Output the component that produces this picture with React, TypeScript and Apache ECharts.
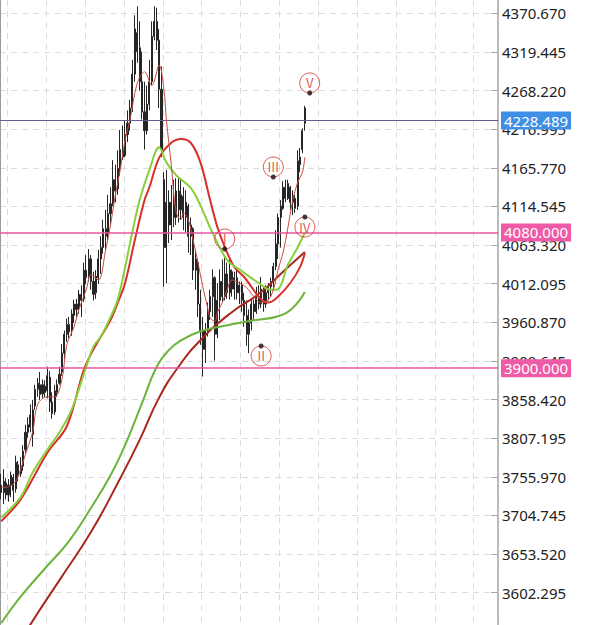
import React, { useEffect, useRef } from "react";
import * as echarts from "echarts";

// ---- data -------------------------------------------------------------
const SLOT_COUNT = 205; // trading-day slots on the x axis (data + empty right side)
const categories: string[] = Array.from({ length: SLOT_COUNT }, (_, i) => "D" + (i + 1));

const yTicks = [
  3602.295, 3653.52, 3704.745, 3755.97, 3807.195, 3858.42, 3909.645, 3960.87,
  4012.095, 4063.32, 4114.545, 4165.77, 4216.995, 4268.22, 4319.445, 4370.67,
];
const Y_MIN = 3559.46;
const Y_MAX = 4388.31;

// [open, close, low, high]
const candles = [
  [3745, 3735, 3726, 3760], [3735, 3750, 3720, 3766], [3748, 3732, 3726, 3754], [3732, 3745, 3723, 3753],
  [3745, 3758, 3729, 3763], [3755, 3738, 3723, 3760], [3740, 3775, 3735, 3784], [3772, 3758, 3750, 3777],
  [3760, 3770, 3756, 3782], [3770, 3790, 3764, 3798], [3792, 3815, 3788, 3825], [3815, 3825, 3808, 3835],
  [3822, 3838, 3815, 3852], [3845, 3812, 3796, 3858], [3850, 3872, 3845, 3878], [3872, 3880, 3862, 3887],
  [3878, 3865, 3858, 3895], [3866, 3878, 3860, 3885], [3876, 3868, 3862, 3884], [3870, 3890, 3860, 3902],
  [3888, 3855, 3842, 3896], [3855, 3840, 3833, 3868], [3842, 3870, 3838, 3878], [3868, 3878, 3862, 3885],
  [3880, 3892, 3878, 3902], [3895, 3920, 3890, 3932], [3920, 3945, 3912, 3950], [3945, 3958, 3935, 3966],
  [3958, 3948, 3940, 3968], [3950, 3972, 3943, 3978], [3970, 3985, 3960, 3991], [3985, 3978, 3968, 3992],
  [3980, 3998, 3972, 4004], [3998, 3990, 3968, 4010], [3992, 4030, 3988, 4040], [4030, 4020, 4011, 4050],
  [4022, 4045, 4015, 4058], [4045, 4015, 4004, 4050], [4015, 3998, 3990, 4028], [4000, 4022, 3992, 4030],
  [4020, 4045, 4012, 4057], [4045, 4060, 4025, 4075], [4060, 4085, 4052, 4097], [4085, 4075, 4057, 4110],
  [4078, 4105, 4070, 4130], [4105, 4118, 4090, 4140], [4118, 4150, 4115, 4176], [4150, 4135, 4120, 4170],
  [4138, 4165, 4130, 4189], [4165, 4190, 4155, 4216], [4190, 4180, 4176, 4222], [4182, 4210, 4180, 4229],
  [4210, 4225, 4200, 4242], [4225, 4245, 4215, 4256], [4245, 4290, 4240, 4309], [4290, 4350, 4280, 4368],
  [4345, 4320, 4305, 4380], [4325, 4280, 4268, 4360], [4280, 4240, 4230, 4320], [4240, 4215, 4190, 4280],
  [4215, 4250, 4210, 4275], [4250, 4280, 4242, 4309], [4280, 4340, 4275, 4360], [4340, 4360, 4335, 4380],
  [4360, 4335, 4322, 4378], [4335, 4270, 4245, 4350], [4270, 4190, 4180, 4300], [4150, 4060, 4008, 4160],
  [4060, 4120, 4013, 4163], [4120, 4090, 4066, 4136], [4090, 4120, 4070, 4143], [4118, 4100, 4087, 4150],
  [4100, 4135, 4090, 4152], [4135, 4110, 4093, 4154], [4110, 4130, 4097, 4150], [4128, 4100, 4083, 4140],
  [4100, 4120, 4080, 4136], [4115, 4075, 4053, 4118], [4075, 4090, 4050, 4100], [4085, 4030, 4017, 4087],
  [4030, 4045, 4004, 4057], [4040, 3985, 3968, 4045], [3985, 3950, 3931, 4004], [3950, 3925, 3889, 3968],
  [3925, 3950, 3907, 3960], [3950, 3975, 3942, 3987], [3975, 3995, 3964, 4004], [3995, 4020, 3968, 4031],
  [4020, 3945, 3910, 4022], [3945, 3990, 3940, 4013], [3990, 4015, 3964, 4031], [4015, 3995, 3988, 4044],
  [3995, 4025, 3990, 4048], [4025, 4000, 3992, 4040], [4000, 4030, 3991, 4044], [4028, 4005, 3995, 4031],
  [4005, 4020, 3991, 4028], [4020, 4000, 3991, 4031], [4000, 4010, 3985, 4015], [4010, 3990, 3975, 4015],
  [3990, 3970, 3955, 4000], [3970, 3945, 3930, 3990], [3945, 3960, 3920, 3978], [3960, 3985, 3950, 3991],
  [3985, 3975, 3964, 3991], [3975, 3995, 3972, 4008], [3995, 3985, 3978, 4010], [3985, 4005, 3980, 4021],
  [4005, 3985, 3975, 4008], [3985, 4000, 3980, 4010], [4000, 4008, 3990, 4013], [4008, 4015, 3995, 4020],
  [4015, 4035, 4006, 4040], [4035, 4065, 4030, 4083], [4065, 4100, 4045, 4105], [4100, 4115, 4060, 4123],
  [4112, 4140, 4110, 4148], [4140, 4125, 4120, 4150], [4125, 4145, 4123, 4150], [4140, 4120, 4110, 4142],
  [4120, 4128, 4103, 4136], [4125, 4112, 4106, 4130], [4115, 4175, 4110, 4189], [4180, 4170, 4160, 4192],
  [4190, 4215, 4185, 4218], [4225, 4245, 4215, 4248],
];

// moving averages, [slot index, value]
const maShort = [
  [0, 3742], [3, 3743], [6, 3750], [8, 3766], [10, 3786], [13, 3816], [15, 3852], [19, 3862], [22, 3862],
  [25, 3885], [27, 3931], [30, 3955], [32, 3978], [35, 4004], [37, 4024], [40, 4017], [43, 4057], [45, 4090],
  [47, 4130], [49, 4163], [51, 4203], [53, 4229], [56, 4278], [59, 4293], [62, 4275], [65, 4302], [67, 4269],
  [68, 4229], [70, 4170], [72, 4107], [74, 4097], [75, 4106], [77, 4097], [79, 4070], [81, 4040], [83, 4008],
  [85, 3980], [86, 3967], [88, 3962], [89, 3974], [91, 3987], [93, 4004], [95, 4017], [98, 4013], [101, 4007],
  [104, 3995], [107, 3987], [110, 3991], [112, 4004], [114, 4031], [116, 4053], [118, 4086], [120, 4123],
  [122, 4146], [124, 4160], [125, 4180],
];
const ma20 = [
  [0, 3702], [8, 3729], [13, 3762], [19, 3792], [24, 3815], [29, 3845], [35, 3902], [38, 3929], [41, 3942],
  [45, 3968], [48, 3991], [51, 4034], [54, 4081], [57, 4123], [61, 4163], [65, 4193], [68, 4173], [72, 4156],
  [78, 4139], [82, 4116], [86, 4086], [89, 4066], [92, 4048], [94, 4040], [98, 4031], [106, 4013], [111, 4004],
  [114, 4005], [118, 4037], [122, 4060], [125, 4080],
];
const ma30 = [
  [0, 3697], [8, 3726], [19, 3788], [27, 3823], [34, 3898], [38, 3925], [45, 3964], [48, 3987], [51, 4013],
  [55, 4070], [59, 4123], [61, 4140], [65, 4179], [70, 4199], [74, 4204], [78, 4199], [82, 4173], [86, 4123],
  [89, 4087], [92, 4061], [96, 4034], [100, 4021], [103, 4008], [107, 3991], [110, 3987], [114, 3995],
  [119, 4013], [123, 4034], [125, 4053],
];
const ma60 = [
  [0, 3562], [8, 3597], [19, 3638], [28, 3671], [37, 3715], [45, 3758], [51, 3798], [58, 3854], [64, 3902],
  [69, 3924], [74, 3937], [82, 3949], [90, 3955], [103, 3963], [114, 3969], [120, 3980], [125, 4001],
];
const ma120 = [
  [0, 3496], [12, 3560], [24, 3619], [37, 3683], [49, 3754], [57, 3805], [65, 3861], [73, 3902], [82, 3937],
  [94, 3972], [107, 4001], [116, 4028], [125, 4054],
];

// Elliott wave marks
const waveNames = ["Ⅰ", "Ⅱ", "Ⅲ", "Ⅳ", "Ⅴ"];
const wavePoints = [[92, 4058.1], [107, 3929.5], [112, 4153.6], [125, 4100.5], [127, 4265.0]];
const waveIsTrough = [false, true, false, true, false];

// horizontal levels
const levelValues = [4228.489, 4080.0, 3900.0];

// ---- component -------------------------------------------------------
export default function App() {
  const ref = useRef<HTMLDivElement>(null);

  useEffect(() => {
    if (!ref.current) return;
    const chart = echarts.init(ref.current, undefined, { renderer: "svg" });
    const font = "'Noto Sans', sans-serif";
    const gridLine = { color: "#dcdcdc", width: 1, type: [6, 5] as any };
    const levelLine = ["#5e5e90", "#e9559f", "#e9559f"];
    const levelBg = ["#3f8fe6", "#ef5ba6", "#ef5ba6"];
    const red = "#d2352d";

    const lineSeries = (data: number[][], color: string, width: number, z: number, smooth = 0.35) => ({
      type: "line",
      data,
      smooth,
      showSymbol: false,
      silent: true,
      z,
      lineStyle: { color, width },
    });

    const option: any = {
      animation: false,
      grid: { left: 0, right: 92, top: 0, bottom: 0 },
      xAxis: {
        type: "category",
        data: categories,
        boundaryGap: true,
        axisLine: { show: false },
        axisTick: { show: false },
        axisLabel: { show: false },
        splitLine: {
          show: true,
          interval: (i: number) => i % 16 === 3,
          lineStyle: gridLine,
        },
      },
      yAxis: [
        {
          type: "value",
          position: "right",
          min: Y_MIN,
          max: Y_MAX,
          axisLine: { show: true, lineStyle: { color: "#a8a8a8", width: 1.5 } },
          axisTick: {
            show: true,
            inside: true,
            length: 7,
            customValues: yTicks,
            lineStyle: { color: "#a8a8a8" },
          },
          axisLabel: {
            show: true,
            customValues: yTicks,
            formatter: (v: number) => v.toFixed(3),
            color: "#222",
            fontSize: 15,
            fontFamily: font,
            margin: 4,
          },
          splitLine: { show: true, lineStyle: gridLine },
        },
        {
          type: "value",
          position: "left",
          min: Y_MIN,
          max: Y_MAX,
          axisLine: { show: true, lineStyle: { color: "#9a9a9a", width: 1 } },
          axisTick: { show: false },
          axisLabel: { show: false },
          splitLine: { show: false },
        },
      ],
      series: [
        {
          type: "candlestick",
          data: candles,
          barWidth: 1.6,
          z: 2,
          itemStyle: {
            color: "#262626",
            color0: "#262626",
            borderColor: "#262626",
            borderColor0: "#262626",
            borderWidth: 1,
          },
          markLine: {
            silent: true,
            symbol: ["none", "none"],
            animation: false,
            data: levelValues.map((v, i) => ({
              yAxis: v,
              lineStyle: { color: levelLine[i], width: i === 0 ? 1 : 1.5, type: "solid" },
              label: {
                show: true,
                position: "end",
                distance: 3,
                formatter: v.toFixed(3),
                color: "#fff",
                fontSize: 15,
                fontFamily: font,
                backgroundColor: levelBg[i],
                padding: [2, 3, 1, 3],
              },
            })),
          },
        },
        lineSeries(ma120, "#a9271f", 2, 3, 0.5),
        lineSeries(ma60, "#6bb33a", 2, 3, 0.45),
        lineSeries(ma30, "#d7302a", 2, 4),
        lineSeries(ma20, "#88cf3c", 2, 4),
        lineSeries(maShort, "#c94b43", 1, 5),
        {
          type: "scatter",
          z: 6,
          silent: true,
          symbol: "circle",
          symbolSize: 20,
          itemStyle: { color: "rgba(255,255,255,0)", borderColor: red, borderWidth: 1 },
          label: {
            show: true,
            position: "inside",
            color: red,
            fontSize: 13,
            fontFamily: "'Noto Sans CJK SC', sans-serif",
          },
          data: wavePoints.map((p, i) => ({
            value: p,
            symbolOffset: [0, waveIsTrough[i] ? 10 : -10],
            label: { formatter: waveNames[i] },
          })),
        },
        {
          type: "scatter",
          z: 7,
          silent: true,
          symbol: "circle",
          symbolSize: 5,
          itemStyle: { color: "#111" },
          data: wavePoints,
        },
      ],
    };
    chart.setOption(option);
    return () => chart.dispose();
  }, []);

  return (
    <div
      ref={ref}
      style={{ position: "absolute", left: 0, top: 0, width: 590, height: 625 }}
    />
  );
}
